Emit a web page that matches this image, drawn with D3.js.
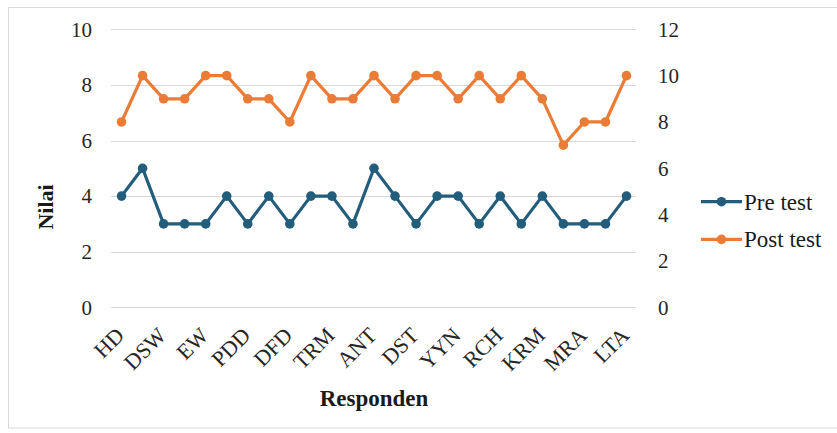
<!DOCTYPE html>
<html><head><meta charset="utf-8">
<script src="https://cdn.jsdelivr.net/npm/d3@7"></script>
<style>body{margin:0;background:#fff}svg{display:block}</style>
</head><body>
<svg id="c" width="837" height="433"></svg>
<script>
const categoryLabels = ["HD","","DSW","","EW","","PDD","","DFD","","TRM","","ANT","","DST","","YYN","","RCH","","KRM","","MRA","","LTA"];
const preTest  = [4,5,3,3,3,4,3,4,3,4,4,3,5,4,3,4,4,3,4,3,4,3,3,3,4];
const postTest = [8,10,9,9,10,10,9,9,8,10,9,9,10,9,10,10,9,10,9,10,9,7,8,8,10];
const leftTicks = [0,2,4,6,8,10];
const rightTicks = [0,2,4,6,8,10,12];
const seriesNames = ["Pre test","Post test"];

const colors = ["#235D7C","#EB7C35"];
const font = "'Liberation Serif','Times New Roman',serif";
const svg = d3.select("#c");

// frame
svg.append("rect").attr("x",8.5).attr("y",7.5).attr("width",840).attr("height",420.5)
  .attr("fill","#fff").attr("stroke","#d9d9d9").attr("stroke-width",1);

const plotTop = 29.3, plotBottom = 307.3;
const x = d3.scalePoint().domain(d3.range(preTest.length)).range([111,637]).padding(0.5);
const yL = d3.scaleLinear().domain([0,10]).range([plotBottom, plotTop]);
const yR = d3.scaleLinear().domain([0,12]).range([plotBottom, plotTop]);

// gridlines
svg.append("g").selectAll("line").data(leftTicks).join("line")
  .attr("x1",111).attr("x2",636)
  .attr("y1",d=>Math.round(yL(d))+0.5).attr("y2",d=>Math.round(yL(d))+0.5)
  .attr("stroke","#d9d9d9").attr("stroke-width",1);

// left axis
const gl = svg.append("g").attr("transform","translate(92,0)")
  .call(d3.axisLeft(yL).tickValues(leftTicks).tickSize(0).tickPadding(0));
gl.select(".domain").remove();
gl.selectAll("text").attr("font-family",font).attr("font-size",21).attr("fill","#262626");

// right axis
const gr = svg.append("g").attr("transform","translate(658,0)")
  .call(d3.axisRight(yR).tickValues(rightTicks).tickSize(0).tickPadding(0));
gr.select(".domain").remove();
gr.selectAll("text").attr("font-family",font).attr("font-size",21).attr("fill","#262626");

// x axis labels
const gx = svg.append("g").attr("transform",`translate(0,${plotBottom})`)
  .call(d3.axisBottom(x).tickSize(0).tickFormat(i=>categoryLabels[i]));
gx.select(".domain").remove();
gx.selectAll(".tick text")
  .attr("font-family",font).attr("font-size",22).attr("fill","#262626")
  .attr("text-anchor","end").attr("dy","0.35em")
  .attr("transform","translate(-2,24) rotate(-45)").attr("y",0).attr("x",0);

// series
const series = [
  {name:seriesNames[0], values:preTest, y:yL, color:colors[0]},
  {name:seriesNames[1], values:postTest, y:yR, color:colors[1]}
];
series.forEach(s=>{
  const line = d3.line().x((d,i)=>x(i)).y(d=>s.y(d));
  svg.append("path").datum(s.values).attr("d",line)
    .attr("fill","none").attr("stroke",s.color).attr("stroke-width",3.2).attr("stroke-linejoin","round");
  svg.append("g").selectAll("circle").data(s.values).join("circle")
    .attr("cx",(d,i)=>x(i)).attr("cy",d=>s.y(d)).attr("r",4.8).attr("fill",s.color);
});

// legend
const lg = svg.append("g");
series.forEach((s,i)=>{
  const ly = 201.7 + i*37.7;
  lg.append("line").attr("x1",701).attr("x2",742).attr("y1",ly).attr("y2",ly)
    .attr("stroke",s.color).attr("stroke-width",3.2);
  lg.append("circle").attr("cx",721.5).attr("cy",ly).attr("r",4.8).attr("fill",s.color);
  lg.append("text").attr("x",744).attr("y",ly).attr("dy","0.35em")
    .attr("font-family",font).attr("font-size",23).attr("fill","#1a1a1a").text(s.name);
});

// axis titles
svg.append("text").attr("transform","translate(53,207) rotate(-90)")
  .attr("text-anchor","middle").attr("font-family",font).attr("font-weight","bold")
  .attr("font-size",22).attr("fill","#1a1a1a").text("Nilai");
svg.append("text").attr("x",374).attr("y",406)
  .attr("text-anchor","middle").attr("font-family",font).attr("font-weight","bold")
  .attr("font-size",23).attr("fill","#1a1a1a").text("Responden");
</script>
</body></html>
